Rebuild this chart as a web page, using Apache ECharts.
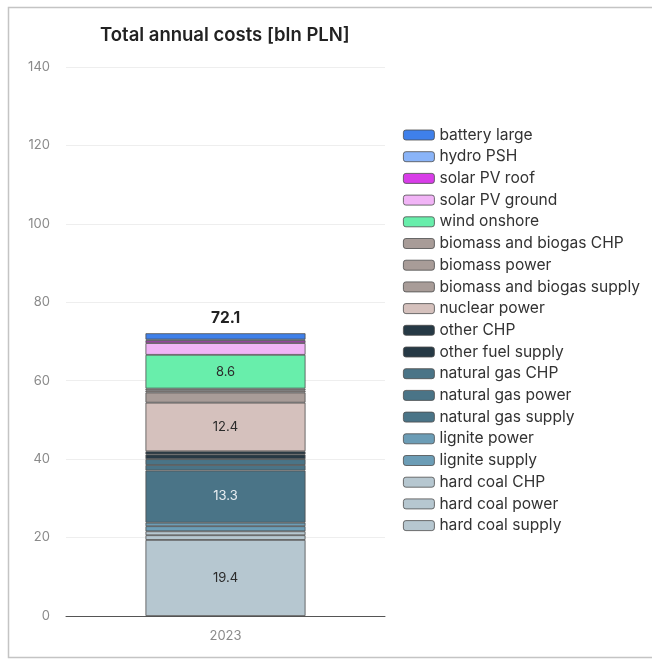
<!DOCTYPE html>
<html>
<head>
<meta charset="utf-8">
<script src="https://cdn.jsdelivr.net/npm/echarts@6/dist/echarts.min.js"></script>
<style>
  html, body { margin: 0; padding: 0; background: #ffffff; }
  #chart { width: 652px; height: 660px; }
</style>
</head>
<body>
<div id="chart"></div>
<script>
// Cost components, listed from the bottom of the stack to the top
const categories = ['2023'];
const seriesNames = [
  'hard coal supply', 'hard coal power', 'hard coal CHP',
  'lignite supply', 'lignite power',
  'natural gas supply', 'natural gas power', 'natural gas CHP',
  'other fuel supply', 'other CHP',
  'nuclear power',
  'biomass and biogas supply', 'biomass power', 'biomass and biogas CHP',
  'wind onshore', 'solar PV ground', 'solar PV roof',
  'hydro PSH', 'battery large'
];
const costs2023 = [
  19.4, 1.2, 1.0,
  1.3, 0.9,
  13.3, 1.4, 1.5,
  1.2, 0.8,
  12.4,
  2.6, 0.5, 0.5,
  8.6, 3.0, 0.6,
  0.3, 1.6
];
const seriesColors = [
  '#b6c7d0', '#b6c7d0', '#b6c7d0',
  '#6c9db6', '#6c9db6',
  '#4a7487', '#4a7487', '#4a7487',
  '#263945', '#263945',
  '#d5c1bd',
  '#a89c98', '#a89c98', '#a89c98',
  '#68eeab', '#f1b4f6', '#d83de8',
  '#8ab4f8', '#3f80ea'
];
// Segments that carry their value as an inside label
const labelledSeries = {
  'hard coal supply': '#2b2b2b',
  'natural gas supply': '#e8eef2',
  'nuclear power': '#2b2b2b',
  'wind onshore': '#2b2b2b'
};
const yTicks = { min: 0, max: 140, interval: 20 };

const total = Math.round(costs2023.reduce((a, b) => a + b, 0) * 10) / 10;

const series = seriesNames.map((name, i) => {
  const s = {
    name: name,
    type: 'bar',
    stack: 'costs',
    barWidth: 160,
    data: [costs2023[i]],
    itemStyle: { color: seriesColors[i], borderColor: '#4d4d4d', borderWidth: 0.8 },
    emphasis: { disabled: true },
    label: { show: false }
  };
  if (labelledSeries[name]) {
    s.label = {
      show: true,
      position: 'inside',
      color: labelledSeries[name],
      fontFamily: 'Inter',
      fontSize: 13,
      formatter: p => p.value.toFixed(1)
    };
  }
  if (i === seriesNames.length - 1) {
    s.label = {
      show: true,
      position: 'top',
      distance: 7,
      color: '#222222',
      fontFamily: 'Inter',
      fontWeight: 'bold',
      fontSize: 15.5,
      formatter: () => total.toFixed(1)
    };
  }
  return s;
});

const chart = echarts.init(document.getElementById('chart'), null, { renderer: 'canvas' });
chart.setOption({
  backgroundColor: '#ffffff',
  animation: false,
  graphic: [{
    type: 'rect',
    shape: { x: 8.5, y: 7.5, width: 700, height: 650 },
    style: { fill: 'none', stroke: '#c4c4c4', lineWidth: 1.5 },
    silent: true,
    z: 0
  }],
  title: {
    text: 'Total annual costs [bln PLN]',
    left: 95,
    top: 21,
    textStyle: { fontFamily: 'Inter', fontWeight: 600, fontSize: 18.5, color: '#222222' }
  },
  legend: {
    orient: 'vertical',
    left: 398,
    top: 122,
    itemWidth: 31,
    itemHeight: 10,
    itemGap: 5.7,
    data: seriesNames.slice().reverse(),
    textStyle: { fontFamily: 'Inter', fontSize: 15.6, color: '#333333', lineHeight: 16 },
    itemStyle: { borderColor: '#4d4d4d', borderWidth: 0.8 },
    selectedMode: false
  },
  grid: { left: 66, right: 267, top: 67, bottom: 44, containLabel: false },
  xAxis: {
    type: 'category',
    data: categories,
    axisLine: { lineStyle: { color: '#555555', width: 1 } },
    axisTick: { show: false },
    axisLabel: { color: '#8a8a8a', fontFamily: 'Inter', fontSize: 13, margin: 14 }
  },
  yAxis: {
    type: 'value',
    min: yTicks.min,
    max: yTicks.max,
    interval: yTicks.interval,
    axisLine: { show: false },
    axisTick: { show: false },
    splitLine: { lineStyle: { color: '#eeeeee', width: 1 } },
    axisLabel: { color: '#8a8a8a', fontFamily: 'Inter', fontSize: 13, margin: 16 }
  },
  series: series
});
</script>
</body>
</html>
